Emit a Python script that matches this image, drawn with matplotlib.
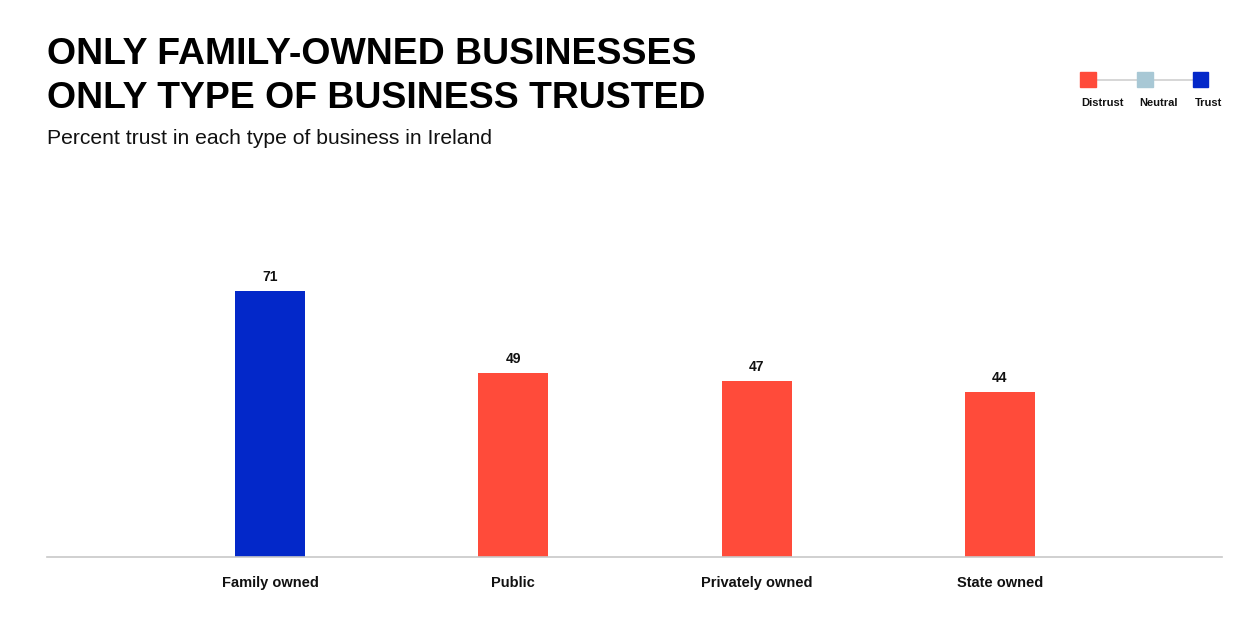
import matplotlib
matplotlib.use("Agg")
import matplotlib.pyplot as plt
from matplotlib.patches import Rectangle
from matplotlib.lines import Line2D

categories = ["Family owned", "Public", "Privately owned", "State owned"]
values = [71, 49, 47, 44]
levels = ["Trust", "Distrust", "Distrust", "Distrust"]
legend_labels = ["Distrust", "Neutral", "Trust"]
level_colors = {"Distrust": "#FF4B3A", "Neutral": "#A8C8D5", "Trust": "#0328C9"}

plt.rcParams['font.family'] = ['Liberation Sans', 'DejaVu Sans']

W, H = 1251, 623
fig = plt.figure(figsize=(W / 100, H / 100), dpi=100)

def fx(px):
    return px / W

def fy(py):
    return 1 - py / H

ax_left, ax_right, ax_top, ax_bottom = 47, 1222, 200, 557
ax = fig.add_axes([fx(ax_left), fy(ax_bottom), fx(ax_right - ax_left), (ax_bottom - ax_top) / H])
x = list(range(len(categories)))
colors = [level_colors[l] for l in levels]
ax.bar(x, values, width=0.288, color=colors, zorder=2)
ax.set_xlim(-0.917, 3.913)
ax.set_ylim(0, 95.3)
for xi, v in zip(x, values):
    ax.annotate(str(v), (xi, v), xytext=(0, 5), textcoords="offset points",
                ha="center", va="bottom", fontsize=10, fontweight="bold", color="#111111")
for s in ["top", "right", "left"]:
    ax.spines[s].set_visible(False)
ax.spines["bottom"].set_color("#C8C8C8")
ax.spines["bottom"].set_linewidth(1.2)
ax.set_yticks([])
ax.set_xticks(x)
ax.set_xticklabels(categories, fontsize=10.5, fontweight="bold", color="#111111")
ax.tick_params(axis="x", length=0, pad=14)

fig.text(fx(47), fy(64), "ONLY FAMILY-OWNED BUSINESSES", fontsize=26.9, fontweight="bold",
         ha="left", va="baseline", color="#000000")
fig.text(fx(47), fy(108), "ONLY TYPE OF BUSINESS TRUSTED", fontsize=26.9, fontweight="bold",
         ha="left", va="baseline", color="#000000")
fig.text(fx(47), fy(144), "Percent trust in each type of business in Ireland", fontsize=15.2,
         ha="left", va="baseline", color="#111111")

# legend
lx = [1088, 1145, 1200.5]
ly = 79.5
fig.add_artist(Line2D([fx(lx[0]), fx(lx[-1])], [fy(ly), fy(ly)], color="#D0D0D0", lw=1.2,
                      transform=fig.transFigure, zorder=1))
sq = 15.5
text_x = [1103, 1158, 1209]
for cx, tx, lab in zip(lx, text_x, legend_labels):
    fig.add_artist(Rectangle((fx(cx - sq / 2), fy(ly + sq / 2)), sq / W, sq / H,
                             color=level_colors[lab], transform=fig.transFigure, zorder=3))
    fig.text(fx(tx), fy(103), lab,
             fontsize=8, fontweight="bold", ha="center", va="center", color="#111111")

fig.savefig("out.png", dpi=100, facecolor="white")
